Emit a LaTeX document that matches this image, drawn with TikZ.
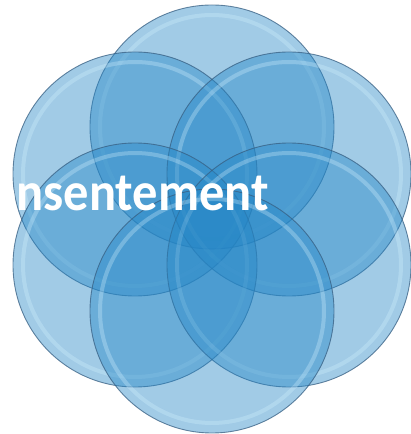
\documentclass[tikz,border=0pt]{standalone}
\usepackage{fontspec}
\setmainfont{Carlito}
\usepackage{tikz}
\usetikzlibrary{calc}
\definecolor{petalblue}{RGB}{36,134,198}
\definecolor{petalline}{RGB}{55,95,130}
\definecolor{rimlight}{RGB}{215,242,255}
\tikzset{
petal/.style={circle,inner sep=0pt,minimum size=244pt,fill=petalblue,fill opacity=0.43,draw=petalline,draw opacity=0.75,line width=0.9pt},
rim/.style={rimlight,opacity=0.3,line width=4pt}
}
\begin{document}
\begin{tikzpicture}[x=1pt,y=1pt]
\useasboundingbox (0,0) rectangle (410,434);
\foreach \n/\x/\y in {top/212/307,upleft/135/260,upright/289/260,lowleft/135/169,lowright/289/169,bottom/212/123}{
\node[petal] (\n) at (\x,\y) {};
\draw[rim] (\n.center) circle (112);
}
\node[anchor=base east,inner sep=0pt,text=white,yscale=1.08,transform shape,font=\fontsize{50.5}{52}\selectfont\bfseries] (word) at (269,223) {Consentement};
\end{tikzpicture}
\end{document}
